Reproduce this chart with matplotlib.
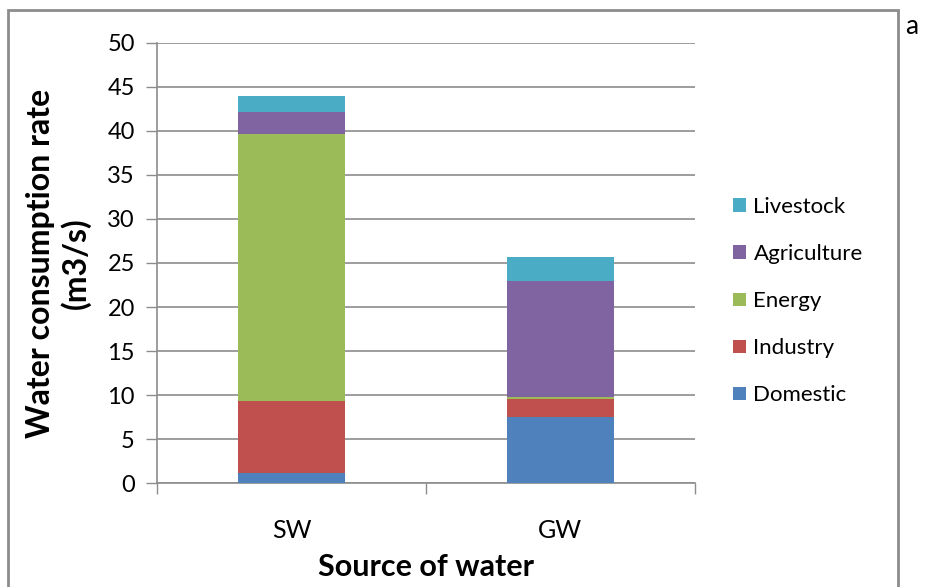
import matplotlib.pyplot as plt
from matplotlib.patches import Rectangle
import numpy as np

plt.rcParams['font.family'] = ['Lato', 'DejaVu Sans']

sources = ['SW', 'GW']
sectors = ['Domestic', 'Industry', 'Energy', 'Agriculture', 'Livestock']
domestic = [1.2, 7.5]
industry = [8.15, 2.1]
energy = [30.35, 0.2]
agriculture = [2.5, 13.1]
livestock = [1.8, 2.75]
colors = ['#4F81BD', '#C0504D', '#9BBB59', '#8064A2', '#4BACC6']

values = [domestic, industry, energy, agriculture, livestock]

fig = plt.figure(figsize=(9.29, 5.87), dpi=100)
ax = fig.add_axes([0.169, 0.177, 0.579, 0.750])

x = np.arange(len(sources))
bottom = np.zeros(len(sources))
handles = []
for name, vals, c in zip(sectors, values, colors):
    h = ax.bar(x, vals, width=0.4, bottom=bottom, color=c, label=name, zorder=3)
    handles.append(h)
    bottom += np.array(vals)

ax.set_xlim(-0.5, 1.5)
ax.set_ylim(0, 50)
ax.set_yticks(range(0, 51, 5))
ax.yaxis.grid(True, color='#8c8c8c', lw=1.2, zorder=0)
ax.tick_params(axis='y', length=8, width=1, color='#8c8c8c', labelsize=17, pad=8)
ax.set_xticks(x)
ax.set_xticklabels(sources)
ax.tick_params(axis='x', length=0, labelsize=18, pad=26)
ax.set_xticks([-0.5, 0.5, 1.5], minor=True)
ax.tick_params(axis='x', which='minor', length=8, width=1, color='#8c8c8c')
for s in ['top', 'right']:
    ax.spines[s].set_visible(False)
for s in ['left', 'bottom']:
    ax.spines[s].set_color('#8c8c8c')
    ax.spines[s].set_linewidth(1.2)

ax.set_ylabel('Water consumption rate\n(m3/s)', fontsize=23, fontweight='bold',
              labelpad=12, linespacing=1.2)
ax.set_xlabel('Source of water', fontsize=22, fontweight='bold', labelpad=8)

fig.legend(handles[::-1], sectors[::-1], loc='center left', bbox_to_anchor=(0.768, 0.487),
           frameon=False, fontsize=16, handlelength=0.55, handleheight=0.55,
           handletextpad=0.35, labelspacing=1.22)

fig.patches.append(Rectangle((8 / 929, -0.05), 890 / 929, 1.05 - 10 / 587,
                             transform=fig.transFigure, fill=False,
                             edgecolor='#8c8c8c', lw=2))
fig.text(912 / 929, 1 - 27 / 587, 'a', fontsize=19, ha='center', va='center')

fig.savefig('out.png', dpi=100)
